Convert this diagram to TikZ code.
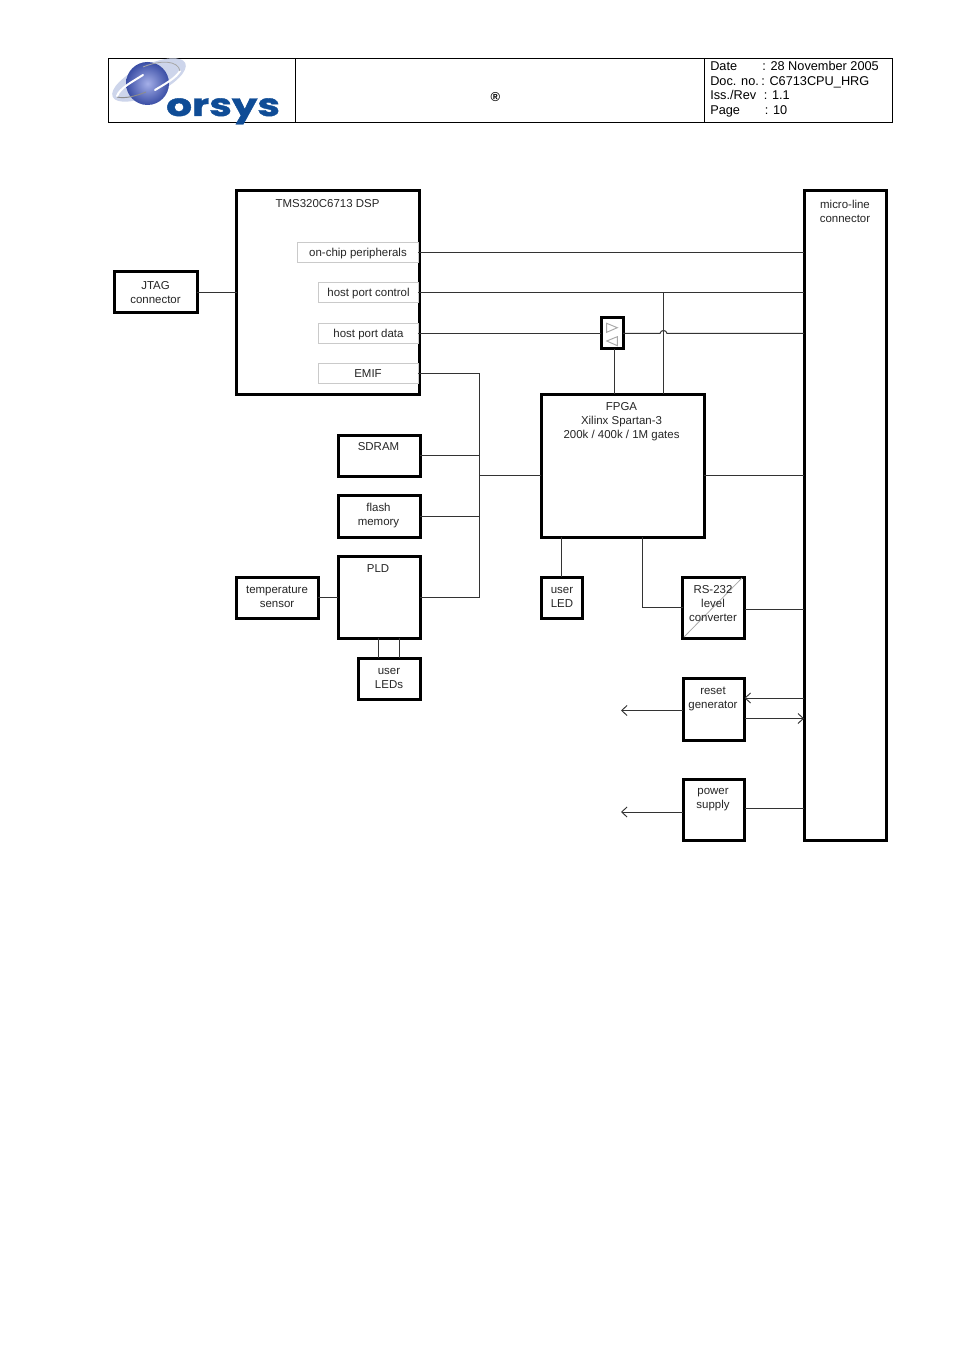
\documentclass[tikz,border=0pt]{standalone}
\usepackage{fontspec}
\usepackage{graphicx}
\setmainfont{Liberation Sans}
\newfontfamily\logofont{Poppins}[FakeBold=1.2]
\usetikzlibrary{arrows.meta}
\definecolor{linec}{HTML}{333333}
\definecolor{subc}{HTML}{CACACA}
\definecolor{tric}{HTML}{A8A8A8}
\definecolor{logoblue}{HTML}{0F4C96}
\tikzset{
 x=0.75pt,y=-0.75pt,
 box/.style={draw=black,line width=2.25pt,inner sep=0pt,outer sep=0pt,fill=none},
 subbox/.style={draw=subc,line width=0.75pt,inner sep=0pt,outer sep=0pt},
 hdrbox/.style={draw=black,line width=0.8pt,inner sep=0pt,outer sep=0pt},
 txt/.style={font=\fontsize{8.6}{10.5}\selectfont,align=center,inner sep=0pt,text=black!85},
 head/.style={font=\fontsize{9.55}{11}\selectfont,anchor=base west,inner sep=0pt,text=black},
 wire/.style={draw=linec,line width=0.75pt},
 barb/.style={-{Straight Barb[length=4pt,width=7.5pt,line width=0.7pt]}},
}
\newcommand{\rectnode}[6][box]{% style, name, x1,y1,x2,y2
 \pgfmathsetlengthmacro{\rw}{(#5-#3)*0.75pt}\pgfmathsetlengthmacro{\rh}{(#6-#4)*0.75pt}
 \node[#1,minimum width=\rw,minimum height=\rh] (#2) at ({(#3+#5)/2},{(#4+#6)/2}) {};}
\begin{document}
\begin{tikzpicture}
\useasboundingbox[fill=white] (0,0) rectangle (954,1351);

% header
\rectnode[hdrbox]{hdr}{108.5}{58.4}{892.5}{122.5}
\coordinate (d1) at (295.5,58.4);
\coordinate (d2) at (704.5,58.4);
\draw[draw=black,line width=0.8pt] (d1) -- (d1 |- hdr.south);
\draw[draw=black,line width=0.8pt] (d2) -- (d2 |- hdr.south);

% logo
\fill[color={rgb,255:red,205;green,213;blue,235},rotate around={25:(149,80)}] (149,80) ellipse [x radius=40,y radius=15];
\shade[inner color={rgb,255:red,165;green,175;blue,232},outer color={rgb,255:red,58;green,78;blue,165}] (147.5,83.5) circle [radius=21.5];
\draw[color=black!45,line width=0.7pt] (117,97) .. controls (125,99) and (136,96) .. (146,92);
\draw[white,line width=1.5pt,line cap=round] (117,96) .. controls (120,88) and (132,82) .. (143,75);
\draw[white,line width=1.5pt,line cap=round] (155,90) .. controls (165,84) and (176,78) .. (180,71);
\draw[color=black!35,line width=0.6pt] (143,67) .. controls (160,60) and (178,60) .. (180,71);
\node[inner sep=0pt,text=logoblue,font=\logofont\bfseries\fontsize{23.5}{26}\selectfont,anchor=base west] (logotext) at (166,116) {\scalebox{1.29}[1]{orsys}};

\node[inner sep=0pt,font=\fontsize{9.7}{11}\selectfont\bfseries] (reg) at (495.5,97) {®};

\node[head] (h1a) at (710,71) {Date};
\node[head] (h1b) at (762,71) {: 28 November 2005};
\node[head] (h2a) at (710,85.5) {Doc. no.};
\node[head] (h2b) at (761,85.5) {: C6713CPU\_HRG};
\node[head] (h3a) at (710,100) {Iss./Rev};
\node[head] (h3b) at (763.5,100) {: 1.1};
\node[head] (h4a) at (710,115) {Page};
\node[head] (h4b) at (764.5,115) {: 10};

% boxes
\rectnode{dsp}{236.5}{191}{419.5}{394}
\rectnode{jtag}{114.5}{272}{197}{313}
\rectnode{micro}{804}{191}{886}{840}
\rectnode{buf}{601}{318}{623}{349}
\rectnode{fpga}{541}{394}{704}{537}
\rectnode{sdram}{338}{435}{420}{476}
\rectnode{flash}{338}{495}{420}{537}
\rectnode{pld}{338}{556}{420}{638}
\rectnode{temp}{236}{577}{318}{618}
\rectnode{uleds}{358}{658}{420}{699}
\rectnode{uled}{541}{577}{582}{618}
\rectnode{rs}{682.5}{577}{744.5}{638}
\rectnode{reset}{683}{678}{744.5}{740}
\rectnode{power}{683}{779}{744.5}{840}
\rectnode[subbox]{onchip}{297.5}{243}{418}{263}
\rectnode[subbox]{hpc}{318}{283}{418}{303}
\rectnode[subbox]{hpd}{318}{323.5}{418}{343.5}
\rectnode[subbox]{emif}{318}{364}{418}{384}

% buffer triangles, RS-232 slash
\draw[draw=tric,line width=0.7pt] (606.7,323.3) -- (617.3,327.7) -- (606.7,332.3) -- cycle;
\draw[draw=tric,line width=0.7pt] (617.3,336.7) -- (606.7,341) -- (617.3,345.7) -- cycle;
\draw[draw=tric,line width=0.6pt] (684,637) -- (742,578);

% helper points
\coordinate (hctap) at (663.5,293);
\coordinate (bus) at (479,475.5);
\coordinate (bustop) at (479,374);
\coordinate (busbot) at (479,597);
\coordinate (jl) at (660,333.5);
\coordinate (jr) at (667,333.5);
\coordinate (jc1) at (660.5,329.5);
\coordinate (jc2) at (666.5,329.5);
\coordinate (bufb) at (614,349);
\coordinate (uledx) at (561,537);
\coordinate (rsx) at (642.5,537);
\coordinate (rsy) at (642.5,607);
\coordinate (ul1) at (378.5,638);
\coordinate (ul2) at (399,638);
\coordinate (resl) at (621,710.5);
\coordinate (rin) at (804,698);
\coordinate (rout) at (744.5,718.5);
\coordinate (powl) at (621,812);
\coordinate (powr) at (744.5,808);
\coordinate (rsr) at (744.5,609);

% connectors
\draw[wire] (jtag.east) -- (jtag.east -| dsp.west);
\draw[wire] (onchip.east) -- (onchip.east -| micro.west);
\draw[wire] (hpc.east) -- (hpc.east -| micro.west);
\draw[wire] (hctap) -- (hctap |- fpga.north);
\draw[wire] (hpd.east) -- (hpd.east -| buf.west);
\draw[wire] (hpd.east -| buf.east) -- (jl) .. controls (jc1) and (jc2) .. (jr) -- (hpd.east -| micro.west);
\draw[wire] (bufb) -- (bufb |- fpga.north);
\draw[wire] (emif.east) -- (bustop) -- (busbot) -- (pld.east);
\draw[wire] (sdram.east) -- (sdram.east -| bus);
\draw[wire] (flash.east) -- (flash.east -| bus);
\draw[wire] (bus) -- (bus -| fpga.west);
\draw[wire] (bus -| fpga.east) -- (bus -| micro.west);
\draw[wire] (uledx) -- (uledx |- uled.north);
\draw[wire] (rsx) -- (rsy) -- (rsy -| rs.west);
\draw[wire] (rsr) -- (rsr -| micro.west);
\draw[wire] (temp.east) -- (temp.east -| pld.west);
\draw[wire] (ul1) -- (ul1 |- uleds.north);
\draw[wire] (ul2) -- (ul2 |- uleds.north);
\draw[wire,barb] (resl -| reset.west) -- (resl);
\draw[wire,barb] (rin) -- (rin -| reset.east);
\draw[wire,barb] (rout) -- (rout -| micro.west);
\draw[wire,barb] (powl -| power.west) -- (powl);
\draw[wire] (powr) -- (powr -| micro.west);

% labels
\node[txt] (tdsp) at (327.5,204) {TMS320C6713 DSP};
\node[txt] (tonchip) at (358,253.5) {on-chip peripherals};
\node[txt] (thpc) at (368.5,293.5) {host port control};
\node[txt] (thpd) at (368.5,334.5) {host port data};
\node[txt] (temif) at (368,374) {EMIF};
\node[txt] (tjtag) at (155.5,293) {JTAG\\connector};
\node[txt] (tmicro) at (845,211) {micro-line\\connector};
\node[txt] (tfpga) at (621.5,422) {FPGA\\Xilinx Spartan-3\\200k / 400k / 1M gates};
\node[txt] (tsdram) at (378.5,447) {SDRAM};
\node[txt] (tflash) at (378.5,516) {flash\\memory};
\node[txt] (tpld) at (378,569) {PLD};
\node[txt] (ttemp) at (277,597) {temperature\\sensor};
\node[txt] (tuleds) at (389,678) {user\\LEDs};
\node[txt] (tuled) at (562,597) {user\\LED};
\node[txt] (trs) at (713,604) {RS-232\\level\\converter};
\node[txt] (treset) at (713,699) {reset\\generator};
\node[txt] (tpower) at (713,800) {power\\supply};
\end{tikzpicture}
\end{document}
